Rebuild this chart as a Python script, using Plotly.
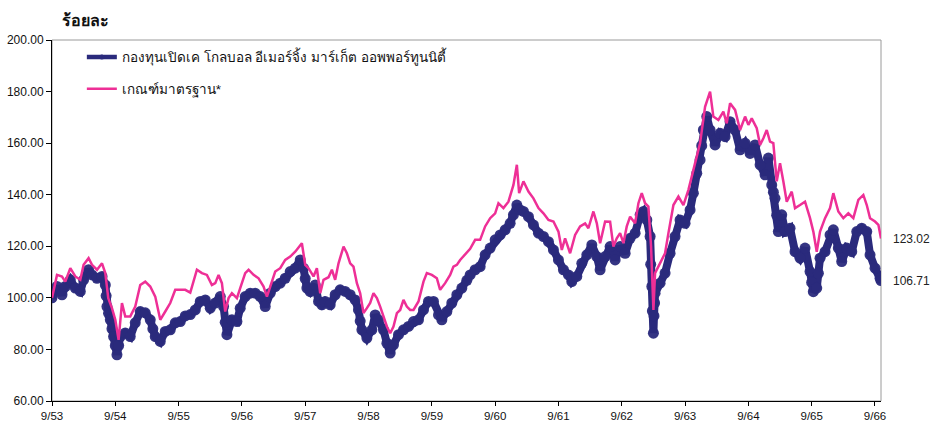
import plotly.graph_objects as go

# Time axis in decimal years (9/53 = Sep 2010)
tick_labels = ["9/53", "9/54", "9/55", "9/56", "9/57", "9/58", "9/59",
               "9/60", "9/61", "9/62", "9/63", "9/64", "9/65", "9/66"]
tick_years = [2010.667 + i for i in range(len(tick_labels))]

fund_name = "กองทุนเปิดเค โกลบอล อีเมอร์จิ้ง มาร์เก็ต ออพพอร์ทูนนิตี้"
bench_name = "เกณฑ์มาตรฐาน*"

fund_t = [2010.667, 2010.746, 2010.825, 2010.877, 2010.956, 2011.035, 2011.114, 2011.166,
          2011.245, 2011.299, 2011.378, 2011.457, 2011.509, 2011.522, 2011.535, 2011.560,
          2011.588, 2011.614, 2011.640, 2011.667, 2011.693, 2011.720, 2011.745, 2011.824,
          2011.903, 2011.982, 2012.061, 2012.140, 2012.219, 2012.260, 2012.298, 2012.377,
          2012.456, 2012.535, 2012.614, 2012.693, 2012.772, 2012.851, 2012.930, 2013.009,
          2013.088, 2013.167, 2013.246, 2013.325, 2013.377, 2013.403, 2013.430, 2013.509,
          2013.588, 2013.640, 2013.719, 2013.798, 2013.877, 2013.956, 2014.035, 2014.114,
          2014.193, 2014.272, 2014.351, 2014.430, 2014.509, 2014.588, 2014.640, 2014.667,
          2014.693, 2014.746, 2014.825, 2014.877, 2014.930, 2014.982, 2015.061, 2015.140,
          2015.219, 2015.298, 2015.377, 2015.456, 2015.508, 2015.535, 2015.562, 2015.641,
          2015.720, 2015.772, 2015.824, 2015.903, 2015.957, 2016.009, 2016.061, 2016.140,
          2016.219, 2016.298, 2016.377, 2016.456, 2016.535, 2016.614, 2016.693, 2016.772,
          2016.825, 2016.904, 2016.983, 2017.062, 2017.141, 2017.220, 2017.272, 2017.351,
          2017.430, 2017.509, 2017.588, 2017.667, 2017.746, 2017.825, 2017.904, 2017.956,
          2018.010, 2018.062, 2018.114, 2018.193, 2018.272, 2018.351, 2018.430, 2018.509,
          2018.588, 2018.667, 2018.746, 2018.825, 2018.878, 2018.957, 2019.036, 2019.115,
          2019.194, 2019.273, 2019.325, 2019.404, 2019.483, 2019.562, 2019.641, 2019.720,
          2019.799, 2019.878, 2019.957, 2020.009, 2020.063, 2020.115, 2020.124, 2020.142,
          2020.151, 2020.167, 2020.176, 2020.185, 2020.193, 2020.272, 2020.351, 2020.430,
          2020.509, 2020.588, 2020.667, 2020.746, 2020.798, 2020.852, 2020.904, 2020.930,
          2020.956, 2021.010, 2021.062, 2021.141, 2021.220, 2021.299, 2021.378, 2021.457,
          2021.536, 2021.615, 2021.694, 2021.773, 2021.852, 2021.931, 2021.983, 2022.036,
          2022.062, 2022.088, 2022.114, 2022.140, 2022.194, 2022.246, 2022.325, 2022.404,
          2022.483, 2022.562, 2022.641, 2022.667, 2022.693, 2022.747, 2022.773, 2022.799,
          2022.878, 2022.957, 2023.009, 2023.088, 2023.142, 2023.221, 2023.300, 2023.379,
          2023.458, 2023.537, 2023.589, 2023.668, 2023.747, 2023.762]
fund_v = [100.0, 104.4, 101.2, 104.4, 107.0, 103.8, 102.5, 107.0,
          110.9, 108.9, 107.6, 108.3, 105.0, 100.8, 96.6, 94.0,
          91.5, 88.0, 85.0, 81.5, 77.9, 81.5, 85.0, 86.4,
          85.0, 90.3, 94.7, 94.2, 91.5, 88.0, 85.0, 83.1,
          87.0, 87.6, 90.3, 90.8, 93.0, 93.5, 95.3, 98.6,
          99.2, 96.0, 98.0, 100.5, 96.6, 90.5, 85.7, 91.5,
          90.8, 96.0, 100.5, 101.8, 101.8, 100.5, 96.6, 101.8,
          104.4, 105.7, 107.6, 110.2, 111.5, 114.7, 111.5, 107.5,
          103.8, 102.4, 105.0, 98.6, 97.3, 98.6, 97.3, 101.2,
          103.1, 102.5, 101.2, 99.2, 95.3, 91.0, 87.6, 84.4,
          87.6, 93.4, 91.5, 87.6, 82.4, 78.6, 81.8, 85.7,
          87.6, 88.9, 90.8, 91.5, 95.3, 98.6, 98.6, 93.4,
          91.5, 94.7, 98.0, 101.2, 103.8, 106.8, 108.9, 110.9,
          112.1, 116.7, 119.3, 122.5, 124.4, 126.4, 128.9, 132.2,
          136.0, 134.1, 133.5, 131.5, 128.3, 125.1, 123.8, 121.8,
          118.6, 114.7, 110.9, 108.9, 106.3, 108.3, 113.4, 116.7,
          120.5, 116.0, 110.9, 116.0, 119.9, 114.7, 119.9, 117.3,
          123.1, 125.1, 132.2, 133.5, 130.2, 123.8, 113.0, 104.4,
          94.9, 86.3, 93.0, 98.0, 101.8, 105.7, 109.6, 117.3,
          123.8, 130.2, 128.9, 134.1, 140.6, 148.3, 153.5, 159.0,
          165.1, 170.3, 165.1, 159.3, 163.8, 162.5, 168.3, 165.1,
          157.4, 160.0, 156.0, 159.3, 151.6, 147.7, 154.2, 143.8,
          141.0, 138.6, 132.0, 125.7, 132.2, 125.7, 127.0, 117.9,
          115.4, 119.3, 110.2, 106.0, 102.4, 103.8, 109.5, 115.4,
          117.9, 124.4, 126.4, 119.3, 114.1, 119.3, 117.9, 125.7,
          127.0, 125.7, 116.7, 111.5, 107.6, 106.71]

bench_t = [2010.667, 2010.746, 2010.825, 2010.877, 2010.956, 2011.035, 2011.114, 2011.166,
           2011.245, 2011.299, 2011.378, 2011.457, 2011.509, 2011.556, 2011.614, 2011.667,
           2011.719, 2011.772, 2011.824, 2011.903, 2011.982, 2012.061, 2012.140, 2012.219,
           2012.298, 2012.377, 2012.456, 2012.535, 2012.614, 2012.693, 2012.772, 2012.851,
           2012.956, 2013.035, 2013.114, 2013.193, 2013.246, 2013.298, 2013.351, 2013.403,
           2013.456, 2013.509, 2013.588, 2013.640, 2013.719, 2013.772, 2013.851, 2013.930,
           2014.009, 2014.062, 2014.114, 2014.193, 2014.272, 2014.351, 2014.430, 2014.509,
           2014.614, 2014.667, 2014.719, 2014.798, 2014.851, 2014.904, 2014.956, 2015.035,
           2015.088, 2015.140, 2015.193, 2015.272, 2015.325, 2015.377, 2015.429, 2015.483,
           2015.535, 2015.587, 2015.641, 2015.693, 2015.745, 2015.799, 2015.851, 2015.903,
           2015.957, 2016.009, 2016.061, 2016.115, 2016.167, 2016.219, 2016.272, 2016.325,
           2016.377, 2016.456, 2016.535, 2016.588, 2016.667, 2016.746, 2016.798, 2016.877,
           2016.956, 2017.008, 2017.062, 2017.114, 2017.193, 2017.272, 2017.351, 2017.430,
           2017.509, 2017.588, 2017.667, 2017.719, 2017.798, 2017.877, 2017.956, 2018.010,
           2018.046, 2018.114, 2018.193, 2018.272, 2018.351, 2018.430, 2018.509, 2018.588,
           2018.667, 2018.720, 2018.772, 2018.851, 2018.930, 2019.009, 2019.088, 2019.140,
           2019.219, 2019.273, 2019.325, 2019.404, 2019.483, 2019.535, 2019.588, 2019.641,
           2019.693, 2019.746, 2019.799, 2019.878, 2019.930, 2019.983, 2020.035, 2020.088,
           2020.130, 2020.167, 2020.193, 2020.272, 2020.351, 2020.404, 2020.483, 2020.562,
           2020.641, 2020.720, 2020.773, 2020.825, 2020.904, 2020.983, 2021.062, 2021.114,
           2021.193, 2021.272, 2021.325, 2021.378, 2021.457, 2021.536, 2021.615, 2021.667,
           2021.720, 2021.799, 2021.852, 2021.904, 2021.957, 2022.009, 2022.061, 2022.115,
           2022.167, 2022.219, 2022.273, 2022.352, 2022.404, 2022.483, 2022.562, 2022.641,
           2022.693, 2022.747, 2022.799, 2022.878, 2022.957, 2023.009, 2023.088, 2023.167,
           2023.246, 2023.325, 2023.404, 2023.483, 2023.537, 2023.589, 2023.668, 2023.721,
           2023.762]
bench_v = [100.0, 108.9, 108.3, 106.3, 111.5, 108.3, 107.0, 112.8,
           115.4, 112.8, 110.9, 113.4, 109.6, 99.9, 96.0, 91.5,
           83.7, 98.0, 92.8, 92.8, 96.6, 105.0, 106.3, 104.4,
           100.5, 91.5, 94.7, 98.0, 103.1, 103.1, 103.1, 102.0,
           110.9, 109.6, 108.9, 105.0, 105.7, 108.9, 105.7, 94.7,
           99.9, 101.8, 99.9, 103.8, 109.6, 110.9, 108.9, 107.6,
           104.4, 100.5, 104.4, 110.2, 111.5, 114.7, 116.0, 117.9,
           121.2, 112.8, 111.5, 108.3, 111.5, 101.8, 107.0, 108.0,
           110.9, 107.0, 113.4, 119.9, 117.3, 113.4, 112.1, 105.7,
           101.8, 94.1, 96.0, 98.0, 101.8, 99.9, 96.6, 92.8,
           88.9, 86.3, 88.9, 94.1, 95.3, 99.2, 96.6, 95.3,
           95.3, 98.6, 106.3, 109.6, 108.9, 107.6, 103.1, 105.7,
           108.9, 112.1, 112.8, 114.7, 116.7, 119.0, 122.5, 122.5,
           127.7, 130.9, 132.8, 136.7, 134.8, 137.3, 143.8, 151.6,
           140.6, 145.2, 141.2, 138.6, 134.8, 132.8, 130.2, 129.6,
           125.7, 118.6, 123.1, 117.3, 124.4, 127.7, 128.9, 127.0,
           133.5, 128.9, 121.2, 129.6, 129.5, 119.9, 123.1, 125.1,
           121.2, 127.7, 131.5, 128.9, 136.7, 140.6, 136.7, 135.4,
           119.9, 95.3, 109.6, 113.4, 117.3, 125.1, 136.0, 139.3,
           136.0, 141.9, 147.0, 152.2, 160.0, 174.1, 180.0, 170.3,
           169.0, 172.2, 167.7, 175.5, 172.9, 165.1, 170.3, 167.1,
           169.6, 165.8, 159.3, 161.9, 165.1, 160.6, 160.0, 145.2,
           152.2, 145.2, 137.3, 141.2, 134.8, 136.0, 137.3, 130.9,
           125.7, 117.9, 125.7, 130.9, 134.8, 140.6, 133.5, 130.9,
           132.8, 130.9, 138.0, 139.9, 136.0, 130.9, 129.6, 128.3,
           123.02]

NAVY = "#2A2A7C"
PINK = "#EE2F96"
FONT = "Liberation Sans, Arial, sans-serif"

fig = go.Figure()
fig.add_trace(go.Scatter(
    x=fund_t, y=fund_v, name=fund_name, mode="lines+markers",
    line=dict(color=NAVY, width=8),
    marker=dict(color=NAVY, size=11, opacity=0.95, line=dict(width=0)),
    legendgroup="a", showlegend=False,
))
fig.add_trace(go.Scatter(
    x=bench_t, y=bench_v, name=bench_name, mode="lines",
    line=dict(color=PINK, width=2.5),
    legendgroup="b", showlegend=False,
))
# legend entries (styled like the reference legend keys)
fig.add_trace(go.Scatter(
    x=[None], y=[None], name=fund_name, mode="lines+markers",
    line=dict(color=NAVY, width=4.5), marker=dict(color=NAVY, size=5),
    legendgroup="a",
))
fig.add_trace(go.Scatter(
    x=[None], y=[None], name=bench_name, mode="lines",
    line=dict(color=PINK, width=2.5), legendgroup="b",
))

fig.add_annotation(x=fund_t[-1], y=fund_v[-1], text=f"{fund_v[-1]:.2f}",
                   xref="x", yref="y", xanchor="left", showarrow=False,
                   xshift=10, font=dict(size=12, color="#222", family=FONT))
fig.add_annotation(x=bench_t[-1], y=bench_v[-1], text=f"{bench_v[-1]:.2f}",
                   xref="x", yref="y", xanchor="left", showarrow=False,
                   xshift=10, font=dict(size=12, color="#222", family=FONT))
fig.add_annotation(x=0.01, y=1, xref="paper", yref="paper", yanchor="bottom",
                   xanchor="left", yshift=9, text="<b>ร้อยละ</b>", showarrow=False,
                   font=dict(size=16, color="#111", family=FONT))

fig.add_shape(type="rect", xref="paper", yref="paper", x0=0, y0=0, x1=1, y1=1,
              line=dict(color="#9a9a9a", width=1), layer="below")

fig.update_layout(
    width=931, height=421,
    margin=dict(l=52, r=50, t=40, b=20, autoexpand=False),
    paper_bgcolor="white", plot_bgcolor="white",
    font=dict(family=FONT, size=12, color="#111"),
    showlegend=True,
    legend=dict(x=0.036, y=0.995, xanchor="left", yanchor="top",
                bgcolor="rgba(0,0,0,0)", font=dict(size=13.5, family=FONT, color="#111"),
                tracegroupgap=11, traceorder="grouped", itemwidth=30),
    xaxis=dict(range=[tick_years[0], bench_t[-1]], tickvals=tick_years, ticktext=tick_labels,
               showgrid=False, zeroline=False, showline=True, linecolor="black", linewidth=1,
               ticks="outside", ticklen=4, tickcolor="black", automargin=False,
               tickfont=dict(size=11.5, family=FONT, color="#111")),
    yaxis=dict(range=[60, 200], dtick=20, tickformat=".2f",
               showgrid=False, zeroline=False, showline=True, linecolor="black", linewidth=1,
               ticks="outside", ticklen=5, tickcolor="black", automargin=False,
               tickfont=dict(size=12, family=FONT, color="#111")),
)

fig.write_html("out.html", config={"displayModeBar": False},
               post_script="document.body.style.margin='0';document.body.style.padding='0';")
